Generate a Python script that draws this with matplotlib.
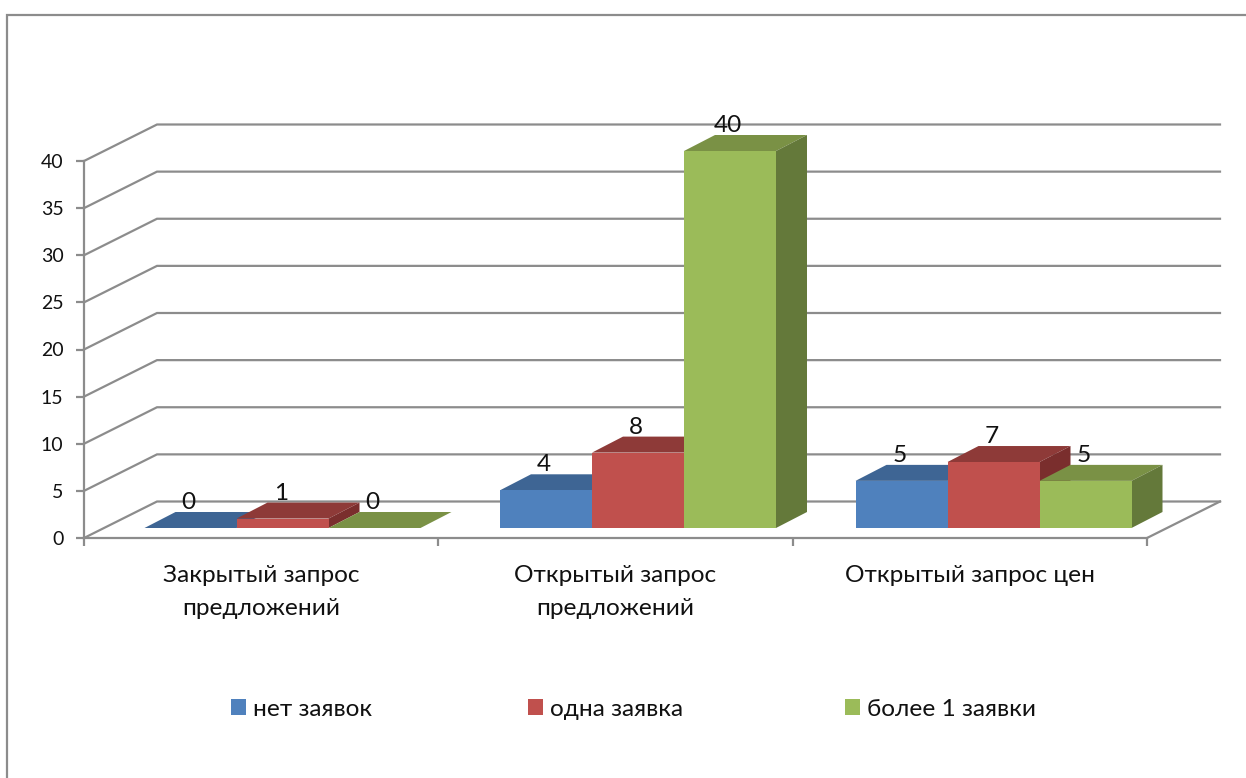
import matplotlib
matplotlib.use("Agg")
import matplotlib.pyplot as plt
from matplotlib.lines import Line2D
from matplotlib.patches import Polygon

categories = ["Закрытый запрос\nпредложений", "Открытый запрос\nпредложений", "Открытый запрос цен"]
series_names = ["нет заявок", "одна заявка", "более 1 заявки"]
net_zayavok = [0, 4, 5]
odna_zayavka = [1, 8, 7]
bolee_1 = [0, 40, 5]
y_ticks = [0, 5, 10, 15, 20, 25, 30, 35, 40]

front = ["#4F81BD", "#C0504D", "#9BBB59"]
top = ["#3E6594", "#8E3A38", "#7A9145"]
side = ["#2F4D71", "#7A2E2D", "#64793A"]
grid = "#8C8C8C"
txt = "#111111"

W, H = 1246, 778
plt.rcParams["font.family"] = ["Lato", "Noto Sans", "DejaVu Sans"]
FS = 17.6
FS_TICK = 14.0
fig = plt.figure(figsize=(W / 100, H / 100), dpi=100)
L, R, T, B = 84, 1147, 161, 538
ax = fig.add_axes([L / W, 1 - B / H, (R - L) / W, (B - T) / H])
ax.set_xlim(0, 3)
ax.set_ylim(0, 40)
ax.patch.set_alpha(0)

ux = 3 / (R - L)      # data per pixel
uy = 40 / (B - T)
BX, BY = 73 * ux, 36.5 * uy   # wall depth offset
lw = 1.6

# walls and gridlines
for v in y_ticks:
    ax.plot([0, BX, 3 + BX], [v, v + BY, v + BY], color=grid, lw=lw, clip_on=False, zorder=1,
            solid_joinstyle="miter")
ax.plot([3, 3 + BX], [0, BY], color=grid, lw=lw, clip_on=False, zorder=1)

for s in ("top", "right"):
    ax.spines[s].set_visible(False)
for s in ("left", "bottom"):
    ax.spines[s].set_color(grid)
    ax.spines[s].set_linewidth(lw)
ax.set_yticks(y_ticks)
ax.set_xticks([0, 1, 2, 3])
ax.set_xticklabels([])
ax.set_xticks([0.5, 1.5, 2.5], minor=True)
ax.set_xticklabels(categories, minor=True, fontsize=FS, color=txt, linespacing=1.72, va="top")
ax.tick_params(axis="x", which="minor", length=0, pad=19.5)
ax.tick_params(axis="x", which="major", length=5.8, width=lw, color=grid)
ax.tick_params(axis="y", length=5.8, width=lw, color=grid, labelsize=FS_TICK, labelcolor=txt, pad=9)

# bars
all_vals = [net_zayavok, odna_zayavka, bolee_1]
start = 60.5 * ux
step = 355.5 * ux
bw = 92 * ux
y0 = 10 * uy
dx, dy = 31 * ux, 16 * uy
z = 3
handles = []
for c in range(len(categories)):
    for s, vals in enumerate(all_vals):
        v = vals[c]
        x0 = start + c * step + s * bw
        tv = y0 + v
        ax.add_patch(Polygon([(x0, tv), (x0 + bw, tv), (x0 + bw + dx, tv + dy), (x0 + dx, tv + dy)],
                             fc=top[s], ec="none", clip_on=False, zorder=z))
        ax.add_patch(Polygon([(x0 + bw, y0), (x0 + bw + dx, y0 + dy), (x0 + bw + dx, tv + dy), (x0 + bw, tv)],
                             fc=side[s], ec="none", clip_on=False, zorder=z))
        b = ax.bar(x0, v, bw, bottom=y0, align="edge", color=front[s], clip_on=False, zorder=z + 0.5)
        if c == 0:
            handles.append(b[0])
        ax.annotate(str(v), (x0 + bw / 2, tv), xytext=(-1.3, 18.4), textcoords="offset points",
                    ha="center", va="center", fontsize=FS, color=txt, zorder=50, annotation_clip=False)
        z += 1

# legend: one fixed-pitch entry per series
for h, name, px in zip(handles, series_names, [231, 528, 845]):
    fig.legend([h], [name], loc="center left", bbox_to_anchor=(px / W, 1 - 709 / H), frameon=False,
               fontsize=FS, labelcolor=txt, borderpad=0, borderaxespad=0, handlelength=0.61,
               handleheight=0.61, handletextpad=0.29)

# chart frame (left and top edges)
fx, fy = 7 / W, 1 - 15 / H
fig.add_artist(Line2D([fx, fx, 1], [0, fy, fy], color=grid, lw=1.6, solid_joinstyle="miter"))

fig.savefig("out.png", dpi=100)
